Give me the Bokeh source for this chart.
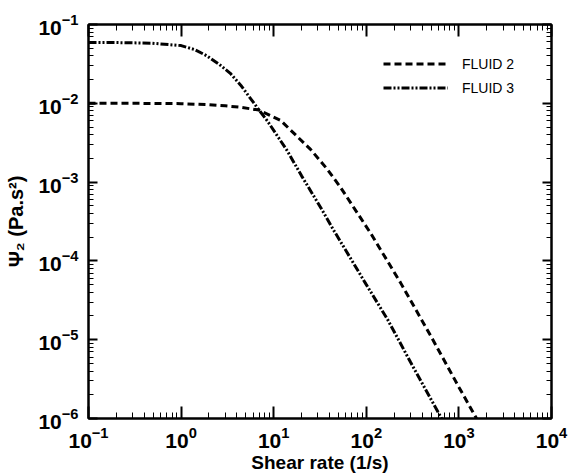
from bokeh.plotting import figure
from bokeh.models import LogAxis, FixedTicker, Legend, LegendItem, Range1d, CustomJSTickFormatter
from bokeh.embed import file_html
from bokeh.resources import INLINE

# ---- data ----
shear_fluid2 = [0.1, 0.3, 1.0, 2.0, 3.0, 4.4, 6.9, 11.8, 25, 38, 52.6, 111, 234, 500, 1000, 1550]
psi2_fluid2 = [0.0100, 0.0100, 0.0099, 0.0096, 0.0093, 0.0089, 0.0082, 0.0061, 0.0026,
               0.00145, 8.6e-4, 2.26e-4, 5.3e-5, 1.1e-5, 2.5e-6, 1.0e-6]

shear_fluid3 = [0.1, 0.2, 0.47, 1.0, 1.4, 1.9, 2.6, 3.4, 4.4, 6.9, 8.6, 14, 20, 32, 44, 100, 170, 300, 650]
psi2_fluid3 = [0.059, 0.059, 0.058, 0.054, 0.048, 0.040, 0.031, 0.024, 0.017, 0.0083, 0.0059, 0.0025,
               0.0012, 4.8e-4, 2.5e-4, 5.0e-5, 1.8e-5, 5.2e-6, 1.0e-6]

series_labels = ["FLUID 2", "FLUID 3"]
x_title = "Shear rate (1/s)"
y_title = "\u03a8\u2082 (Pa.s\u00b2)"

x_major = [1e-1, 1e0, 1e1, 1e2, 1e3, 1e4]
y_major = [1e-6, 1e-5, 1e-4, 1e-3, 1e-2, 1e-1]
x_minor = [m * 10.0 ** e for e in range(-1, 4) for m in range(2, 10)]
y_minor = [m * 10.0 ** e for e in range(-6, -1) for m in range(2, 10)]

FONT = "Liberation Sans"

p = figure(width=568, height=475, x_axis_type="log", y_axis_type="log",
           x_range=Range1d(x_major[0], x_major[-1]), y_range=Range1d(y_major[0], y_major[-1]),
           output_backend="svg", toolbar_location=None,
           min_border_left=88, min_border_right=17, min_border_top=24, min_border_bottom=56)
p.xgrid.visible = False
p.ygrid.visible = False
p.outline_line_color = "black"
p.outline_line_width = 2
p.background_fill_color = "white"
p.border_fill_color = "white"


def style_axis(ax, major_in, minor_in, labels=True):
    ax.major_tick_in = major_in
    ax.major_tick_out = 0
    ax.minor_tick_in = minor_in
    ax.minor_tick_out = 0
    ax.major_tick_line_width = 2
    ax.minor_tick_line_width = 1
    ax.major_tick_line_color = "black"
    ax.minor_tick_line_color = "black"
    ax.axis_line_width = 2
    ax.axis_line_color = "black"
    if labels:
        ax.major_label_text_font = FONT
        ax.major_label_text_font_style = "bold"
        ax.major_label_text_font_size = "21px"
        ax.major_label_text_color = "black"
        ax.axis_label_text_color = "black"
        ax.axis_label_text_font = FONT
        ax.axis_label_text_font_style = "bold"
    else:
        ax.formatter = CustomJSTickFormatter(code="return ''")
        ax.major_label_standoff = 0


xa = p.xaxis[0]
xa.ticker = FixedTicker(ticks=x_major, minor_ticks=x_minor)
style_axis(xa, 12, 6)
xa.major_label_standoff = 8
xa.axis_label = x_title
xa.axis_label_text_font_size = "19px"
xa.axis_label_standoff = 1

ya = p.yaxis[0]
ya.ticker = FixedTicker(ticks=y_major, minor_ticks=y_minor)
style_axis(ya, 9, 5)
ya.major_label_standoff = 10
ya.axis_label = y_title
ya.axis_label_text_font_size = "20px"
ya.axis_label_standoff = 8

top = LogAxis(ticker=FixedTicker(ticks=x_major, minor_ticks=x_minor))
style_axis(top, 12, 6, labels=False)
p.add_layout(top, "above")

right = LogAxis(ticker=FixedTicker(ticks=y_major, minor_ticks=y_minor))
style_axis(right, 9, 5, labels=False)
p.add_layout(right, "right")

r2 = p.line(shear_fluid2, psi2_fluid2, line_color="black", line_width=3, line_dash="7 4")
r3 = p.line(shear_fluid3, psi2_fluid3, line_color="black", line_width=3, line_dash="8 2 2 2 2 2")

legend = Legend(items=[LegendItem(label=series_labels[0], renderers=[r2]),
                       LegendItem(label=series_labels[1], renderers=[r3])],
                location=(295, 320), border_line_color=None, background_fill_alpha=0,
                padding=0, margin=0, glyph_width=65, glyph_height=21, label_height=21,
                label_standoff=14, spacing=3, label_text_font=FONT,
                label_text_font_size="14px", label_text_color="black")
p.add_layout(legend)

open("out.html", "w").write(file_html(p, INLINE))
